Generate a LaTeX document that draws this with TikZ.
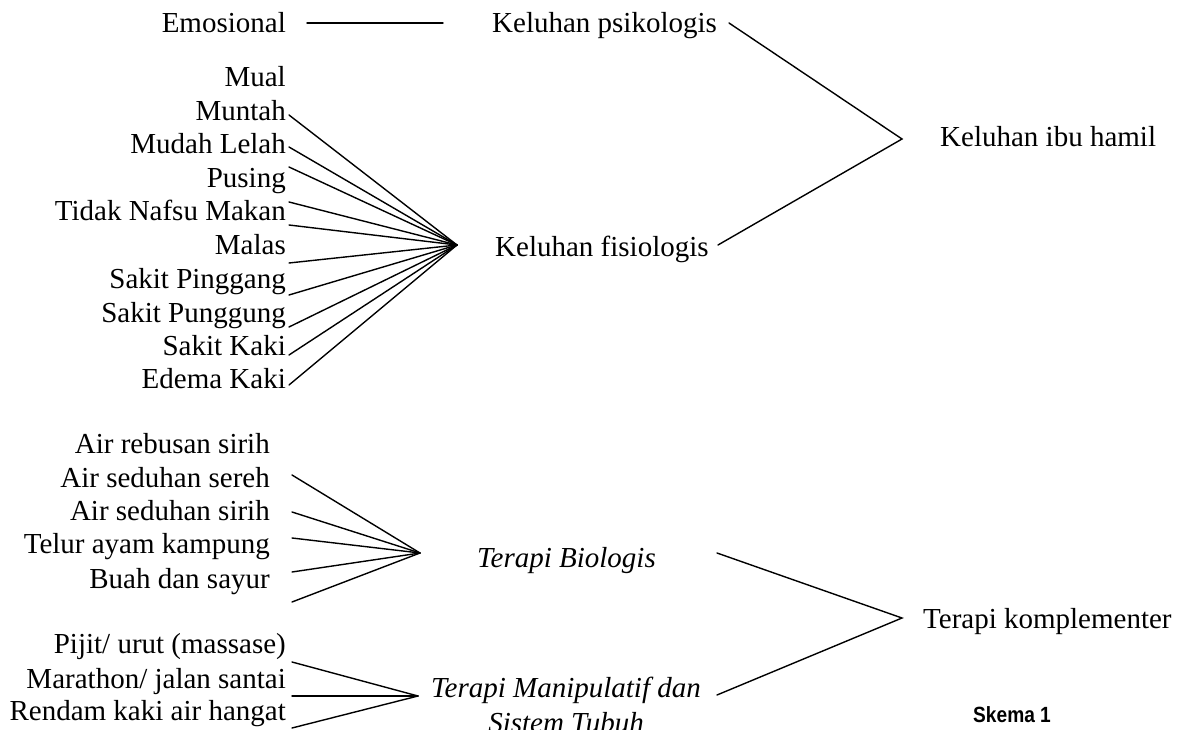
\documentclass[tikz,border=0pt]{standalone}
\usepackage{fontspec}
\setmainfont{Liberation Serif}
\newfontfamily\skemafont[FakeStretch=0.87]{Liberation Sans}
\begin{document}
\begin{tikzpicture}[x=1pt,y=-1pt,
  lbl/.style={inner sep=0pt,font=\fontsize{29}{33}\selectfont},
  lbr/.style={lbl,anchor=base east},
  lbw/.style={lbl,anchor=base west},
  conn/.style={line width=1.4pt,line cap=round,line join=miter}]
\useasboundingbox (0,0) rectangle (1184,730);
% --- top: psikologis
\node[lbr] (emo) at (286,33) {Emosional};
\node[lbw] (psi) at (492,33) {Keluhan psikologis};
\coordinate (emoR) at (307,23);
\coordinate (psiL) at (443,23);
\draw[conn] (emoR) -- (psiL);
% --- fisiologis labels
\node[lbr] (f0) at (286,87) {Mual};
\node[lbr] (f1) at (286,120.5) {Muntah};
\node[lbr] (f2) at (286,154) {Mudah Lelah};
\node[lbr] (f3) at (286,187.5) {Pusing};
\node[lbr] (f4) at (286,221) {Tidak Nafsu Makan};
\node[lbr] (f5) at (286,254.5) {Malas};
\node[lbr] (f6) at (286,288.5) {Sakit Pinggang};
\node[lbr] (f7) at (286,322) {Sakit Punggung};
\node[lbr] (f8) at (286,355) {Sakit Kaki};
\node[lbr] (f9) at (286,388.5) {Edema Kaki};
\node[lbw] (fis) at (495,257) {Keluhan fisiologis};
\coordinate (fhub) at (457,245);
\foreach \n/\yy in {1/115,2/147,3/167,4/202,5/225,6/263,7/295,8/327,9/355,10/385}
  \coordinate (fs\n) at (289,\yy);
\foreach \n in {1,...,10} \draw[conn] (fs\n) -- (fhub);
% --- keluhan ibu hamil
\node[lbw] (ibu) at (940,147) {Keluhan ibu hamil};
\coordinate (psiR) at (729,23);
\coordinate (fisR) at (718,245);
\coordinate (ibuV) at (902,139);
\draw[conn] (psiR) -- (ibuV) -- (fisR);
% --- terapi biologis
\node[lbr] (b1) at (270,453) {Air rebusan sirih};
\node[lbr] (b2) at (270,487) {Air seduhan sereh};
\node[lbr] (b3) at (270,520) {Air seduhan sirih};
\node[lbr] (b4) at (270,553) {Telur ayam kampung};
\node[lbr] (b5) at (270,588) {Buah dan sayur};
\node[lbw] (bio) at (477,567) {\itshape Terapi Biologis};
\coordinate (bhub) at (420,553);
\foreach \n/\yy in {1/475,2/512,3/538,4/572,5/602}
  \coordinate (bs\n) at (292,\yy);
\foreach \n in {1,...,5} \draw[conn] (bs\n) -- (bhub);
% --- terapi manipulatif
\node[lbr] (m1) at (286,653) {Pijit/ urut (massase)};
\node[lbr] (m2) at (286,688) {Marathon/ jalan santai};
\node[lbr] (m3) at (286,720) {Rendam kaki air hangat};
\node[lbl,anchor=north,align=center] (man) at (566,677) {\itshape Terapi Manipulatif dan\\[2pt]\itshape Sistem Tubuh};
\coordinate (mhub) at (418,696);
\foreach \n/\yy in {1/662,2/696,3/728}
  \coordinate (ms\n) at (292,\yy);
\foreach \n in {1,2,3} \draw[conn] (ms\n) -- (mhub);
% --- terapi komplementer
\node[lbw] (kom) at (923,628) {Terapi komplementer};
\coordinate (bioR) at (717,553);
\coordinate (manR) at (717,695);
\coordinate (komV) at (902,618);
\draw[conn] (bioR) -- (komV) -- (manR);
% --- caption
\node[inner sep=0pt,anchor=base west,font=\skemafont\bfseries\fontsize{22}{26}\selectfont] (sk) at (973,722) {Skema 1};
\end{tikzpicture}
\end{document}
